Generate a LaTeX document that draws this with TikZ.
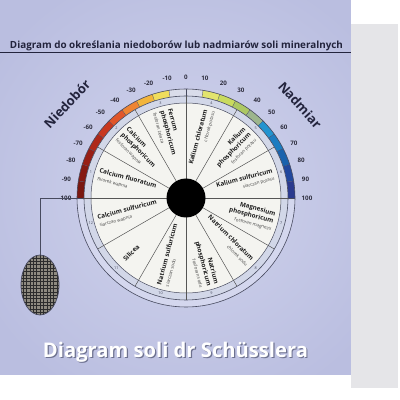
\documentclass[tikz,border=0pt]{standalone}
\usepackage{fontspec}
\setmainfont{Open Sans}
\usepackage{graphicx}
\usetikzlibrary{shapes.geometric}
\definecolor{lav}{HTML}{BABEE0}
\definecolor{lavL}{HTML}{D1D4ED}
\definecolor{graystrip}{HTML}{E5E5E8}
\definecolor{titletxt}{HTML}{23243D}
\definecolor{rim}{HTML}{474A5E}
\definecolor{ringlav}{HTML}{D4D7EE}
\definecolor{ringblue}{HTML}{D2D7E8}
\definecolor{disc}{HTML}{F4F4F0}
\definecolor{spokec}{HTML}{555555}
\definecolor{salttxt}{HTML}{1E1E1E}
\definecolor{subtxt}{HTML}{444444}
\definecolor{scaletxt}{HTML}{2E2E3E}
\definecolor{ovalfill}{HTML}{8E8A80}
\definecolor{gridc}{HTML}{2C2C2C}
\definecolor{shadowc}{HTML}{6E7290}
\definecolor{c0}{HTML}{7A1810}
\definecolor{c1}{HTML}{861A12}
\definecolor{c2}{HTML}{981F15}
\definecolor{c3}{HTML}{AE2819}
\definecolor{c4}{HTML}{C8381F}
\definecolor{c5}{HTML}{E0562A}
\definecolor{c6}{HTML}{EE8432}
\definecolor{c7}{HTML}{F2B53C}
\definecolor{c8}{HTML}{F0DD5C}
\definecolor{c9}{HTML}{D9DCEA}
\definecolor{c10}{HTML}{D9DCEA}
\definecolor{c11}{HTML}{E2E46E}
\definecolor{c12}{HTML}{C9DB5E}
\definecolor{c13}{HTML}{ADC862}
\definecolor{c14}{HTML}{9CB58C}
\definecolor{c15}{HTML}{2294CF}
\definecolor{c16}{HTML}{1C7CC0}
\definecolor{c17}{HTML}{1A62AD}
\definecolor{c18}{HTML}{22489D}
\definecolor{c19}{HTML}{2B3A8F}
\newcommand{\saltname}[1]{{\fontsize{6.3}{7.6}\selectfont\bfseries #1}}
\newcommand{\saltsub}[1]{{\fontsize{4.5}{7.6}\selectfont\color{subtxt}#1}}
\begin{document}
\begin{tikzpicture}[x=1pt,y=1pt,
  segL/.style={anchor=west, align=left, inner sep=0.3pt, text=salttxt, font=\fontsize{6.3}{7.6}\selectfont},
  segR/.style={anchor=east, align=right, inner sep=0.3pt, text=salttxt, font=\fontsize{6.3}{7.6}\selectfont},
  scalelbl/.style={font=\bfseries\fontsize{6.2}{6.5}\selectfont, text=scaletxt, inner sep=0},
  ringnum/.style={font=\fontsize{3.8}{4}\selectfont, text=rim, inner sep=0},
  sidelbl/.style={font=\bfseries\fontsize{13}{14}\selectfont, text=titletxt, inner sep=0},
  spoke/.style={draw=spokec, line width=0.5},
  rimline/.style={draw=rim, line width=0.6},
  leader/.style={draw=rim, line width=0.6}]
\useasboundingbox (0,0) rectangle (400,400);
\fill[white] (0,0) rectangle (400,400);
\begin{scope}
  \clip (0,25) rectangle (351,400);
  \fill[lav] (0,25) rectangle (351,400);
  \shade[inner color=lavL, outer color=lav] (186,210) circle (230);
\end{scope}
\fill[graystrip] (351,12) rectangle (398,376);
% title
\node[text=titletxt, inner sep=0] (title) at (176.5,354.5)
  {\resizebox{333pt}{!}{\bfseries Diagram do określania niedoborów lub nadmiarów soli mineralnych}};
\draw[draw=titletxt, line width=0.8] (0,347.5) -- (351,347.5);
% side labels
\node[sidelbl, rotate=47] (niedobor) at (67,296) {Niedobór};
\node[sidelbl, rotate=-48] (nadmiar) at (300,295) {Nadmiar};
\begin{scope}[shift={(186,202)}]
  \fill[ringlav] (0,0) circle (109);
  \foreach \k [count=\j from 0] in {-10,...,9} {
    \pgfmathsetmacro\aa{90-9*\k}
    \pgfmathsetmacro\bb{90-9*(\k+1)}
    \fill[c\j] (\aa:109) arc[start angle=\aa, end angle=\bb, radius=109]
      -- (\bb:102) arc[start angle=\bb, end angle=\aa, radius=102] -- cycle;
  }
  \foreach \k in {-10,...,10} {
    \pgfmathsetmacro\aa{90-9*\k}
    \draw[draw=rim, line width=0.3] (\aa:102) -- (\aa:109);
  }
  \draw[rimline] (0,0) circle (109);
  \fill[ringblue] (0,0) circle (102);
  \draw[rimline] (0,0) circle (102);
  \fill[disc] (0,0) circle (95);
  \draw[rimline, line width=0.5] (0,0) circle (95);
  \foreach \a in {0,30,...,330} { \draw[spoke] (\a:18) -- (\a:102); }
  \node[circle, fill=black, minimum size=39pt, inner sep=0] (hub) at (0,0) {};
  % scale labels
  \foreach \k [count=\j from 0] in {-10,...,10} {
    \pgfmathsetmacro\aa{90-9*\k}
    \pgfmathtruncatemacro\vv{10*\k}
    \node[scalelbl] (sc\j) at (\aa:121) {\vv};
  }
  % ring numbers
  \foreach \i in {1,...,12} {
    \pgfmathsetmacro\aa{195-30*\i}
    \node[ringnum] (rn\i) at (\aa:98.5) {\i};
  }
  % salts
  \node[segL, rotate=-15] (t1) at (165:91) {\saltname{Calcium fluoratum}\\\saltsub{fluorek wapnia}};
  \node[segL, rotate=-45] (t2) at (135:91) {\saltname{Calcium}\\\saltname{phosphoricum}\\\saltsub{fosforan wapnia}};
  \node[segL, rotate=-75] (t3) at (105:91) {\saltname{Ferrum}\\\saltname{phosphoricum}\\\saltsub{fosforan żelaza}};
  \node[segR, rotate=75] (t4) at (75:91) {\saltname{Kalium chloratum}\\\saltsub{chlorek potasu}};
  \node[segR, rotate=45] (t5) at (45:91) {\saltname{Kalium}\\\saltname{phosphoricum}\\\saltsub{fosforan potasu}};
  \node[segR, rotate=15] (t6) at (15:91) {\saltname{Kalium sulfuricum}\\\saltsub{siarczan potasu}};
  \node[segR, rotate=-15] (t7) at (-15:91) {\saltname{Magnesium}\\\saltname{phosphoricum}\\\saltsub{fosforan magnezu}};
  \node[segR, rotate=-45] (t8) at (-45:91) {\saltname{Natrium chloratum}\\\saltsub{chlorek sodu}};
  \node[segR, rotate=-75] (t9) at (-75:91) {\saltname{Natrium}\\\saltname{phosphoricum}\\\saltsub{fosforan sodu}};
  \node[segL, rotate=75] (t10) at (-105:91) {\saltname{Natrium sulfuricum}\\\saltsub{siarczan sodu}};
  \node[segL, rotate=45] (t11) at (-135:88) {\saltname{Silicea}};
  \node[segL, rotate=15] (t12) at (-165:91) {\saltname{Calcium sulfuricum}\\\saltsub{siarczan wapnia}};
  % leader and oval
  \coordinate (lead0) at (180:109);
  \coordinate (bend) at (-146,0);
  \node[ellipse, draw=rim, line width=0.7, minimum width=38pt, minimum height=60pt, inner sep=0,
        fill=ovalfill, path picture={
          \draw[draw=gridc, line width=0.3, step=3.4pt]
            (path picture bounding box.south west) grid (path picture bounding box.north east);}]
        (oval) at (-146,-87) {};
  \draw[leader] (lead0) -- (bend) -- (oval.north);
\end{scope}
% bottom title
\node[text=shadowc, inner sep=0] (subshadow) at (176.7,46.8)
  {\resizebox{265pt}{!}{\bfseries Diagram soli dr Schüsslera}};
\node[text=white, inner sep=0] (subtitle) at (175.5,48)
  {\resizebox{265pt}{!}{\bfseries Diagram soli dr Schüsslera}};
\end{tikzpicture}
\end{document}
